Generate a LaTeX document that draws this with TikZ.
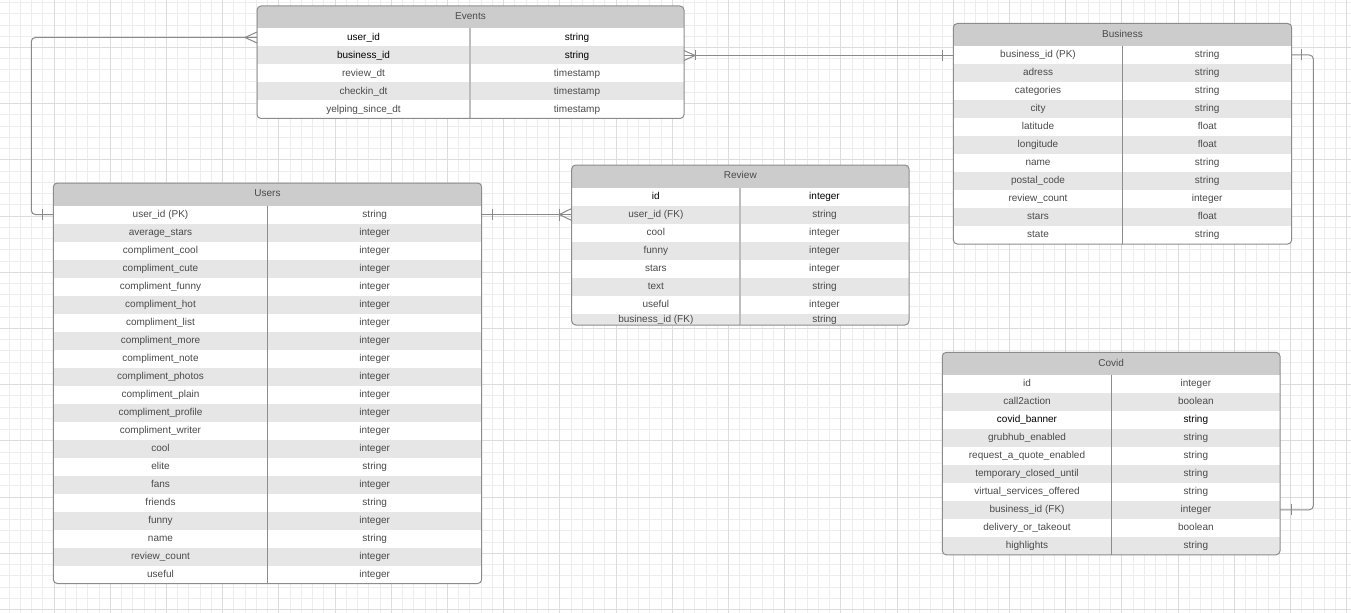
\documentclass[tikz,border=0pt]{standalone}
\usepackage{fontspec}
\setmainfont{Liberation Sans}
\usetikzlibrary{calc}
\definecolor{gridminor}{HTML}{EDEDED}
\definecolor{gridmajor}{HTML}{DCDCDC}
\definecolor{hdr}{HTML}{CCCCCC}
\definecolor{alt}{HTML}{E6E6E6}
\definecolor{bord}{HTML}{8C8C8C}
\definecolor{lightdiv}{HTML}{BDBDBD}
\definecolor{txt}{HTML}{4A4A4A}
\definecolor{conncol}{HTML}{8A8A8A}
\tikzset{
  cell/.style={font=\fontsize{7.5}{9}\selectfont, text=txt, inner sep=0pt, anchor=center, text height=5.4pt, text depth=1.6pt},
  norm/.style={cell},
  dark/.style={cell, text=black},
  normup/.style={cell, yshift=1.6pt},
  rowbox/.style={inner sep=0pt, outer sep=0pt, anchor=north west, minimum height=13.5pt},
  tblborder/.style={draw=bord, line width=0.75pt},
  divdark/.style={draw=bord, line width=0.75pt},
  divlight/.style={draw=lightdiv, line width=1.1pt},
  conn/.style={draw=conncol, line width=0.75pt},
  gmin/.style={draw=gridminor, line width=0.75pt},
  gmaj/.style={draw=gridmajor, line width=0.75pt},
}
% #1 name, #2 x left, #3 y top, #4 x right, #5 x divider, #6 y bottom, #7 title, #8 rows, #9 divider style
\newcommand\ertable[9]{%
  \pgfmathsetmacro\tblw{(#4-#2)*0.75}%
  \pgfmathsetmacro\colxa{(#2+#5)/2}%
  \pgfmathsetmacro\colxb{(#5+#4)/2}%
  \pgfmathsetmacro\titx{(#2+#4)/2}%
  \pgfmathsetmacro\tity{#3+11.25}%
  \pgfmathsetmacro\hdry{#3+22.5}%
  \begin{scope}
    \clip[rounded corners=3pt] (#2,#3) rectangle (#4,#6);
    \fill[white] (#2,#3) rectangle (#4,#6);
    \fill[hdr] (#2,#3) rectangle (#4,\hdry);
    \foreach \fa/\fb/\fs [count=\i] in {#8} {
      \pgfmathsetmacro\rowy{#3+22.5+(\i-1)*18}
      \ifodd\i\else\fill[alt] (#2,\rowy) rectangle (#4,\rowy+18);\fi
      \node[rowbox, minimum width=\tblw pt] (#1-r\i) at (#2,\rowy) {};
      \node[\fs] (#1-a\i) at (\colxa,\rowy+9) {\fa};
      \node[\fs] (#1-b\i) at (\colxb,\rowy+9) {\fb};
    }
  \end{scope}
  \draw[#9] (#5,\hdry) -- (#5,#6);
  \draw[tblborder, rounded corners=3pt] (#2,#3) rectangle (#4,#6);
  \node[cell] (#1) at (\titx,\tity) {#7};
}
\begin{document}
\begin{tikzpicture}[x=0.75pt, y=-0.75pt]
\useasboundingbox (0,0) rectangle (1351,613);
\fill[white] (0,0) rectangle (1351,613);
% grid
\foreach \k in {0,...,119} { \draw[gmin] (9.14+\k*11.24,0) -- (9.14+\k*11.24,613); }
\foreach \k in {0,...,54} { \draw[gmin] (0,2.54+\k*11.24) -- (1351,2.54+\k*11.24); }
\foreach \k in {0,...,23} { \draw[gmaj] (54.1+\k*56.2,0) -- (54.1+\k*56.2,613); }
\foreach \k in {0,...,10} { \draw[gmaj] (0,47.5+\k*56.2) -- (1351,47.5+\k*56.2); }

% tables
\ertable{events}{257}{6}{684}{470}{118.5}{Events}{%
  user\_id/string/dark,
  business\_id/string/dark,
  review\_dt/timestamp/norm,
  checkin\_dt/timestamp/norm,
  yelping\_since\_dt/timestamp/norm}{divlight}

\ertable{business}{953.3}{23.5}{1291.7}{1122.7}{244}{Business}{%
  business\_id (PK)/string/norm,
  adress/string/norm,
  categories/string/norm,
  city/string/norm,
  latitude/float/norm,
  longitude/float/norm,
  name/string/norm,
  postal\_code/string/norm,
  review\_count/integer/norm,
  stars/float/norm,
  state/string/norm}{divdark}

\ertable{review}{571.7}{165}{909}{740}{325}{Review}{%
  id/integer/dark,
  user\_id (FK)/string/norm,
  cool/integer/norm,
  funny/integer/norm,
  stars/integer/norm,
  text/string/norm,
  useful/integer/norm,
  business\_id (FK)/string/normup}{divlight}

\ertable{users}{53.3}{183}{481.7}{267.7}{583.5}{Users}{%
  user\_id (PK)/string/norm,
  average\_stars/integer/norm,
  compliment\_cool/integer/norm,
  compliment\_cute/integer/norm,
  compliment\_funny/integer/norm,
  compliment\_hot/integer/norm,
  compliment\_list/integer/norm,
  compliment\_more/integer/norm,
  compliment\_note/integer/norm,
  compliment\_photos/integer/norm,
  compliment\_plain/integer/norm,
  compliment\_profile/integer/norm,
  compliment\_writer/integer/norm,
  cool/integer/norm,
  elite/string/norm,
  fans/integer/norm,
  friends/string/norm,
  funny/integer/norm,
  name/string/norm,
  review\_count/integer/norm,
  useful/integer/norm}{divdark}

\ertable{covid}{942.3}{352.3}{1280}{1111.7}{554.8}{Covid}{%
  id/integer/norm,
  call2action/boolean/norm,
  covid\_banner/string/dark,
  grubhub\_enabled/string/norm,
  request\_a\_quote\_enabled/string/norm,
  temporary\_closed\_until/string/norm,
  virtual\_services\_offered/string/norm,
  business\_id (FK)/integer/norm,
  delivery\_or\_takeout/boolean/norm,
  highlights/string/norm}{divdark}

% connectors
% Users -- Events
\draw[conn, rounded corners=3pt] (users-r1.west) -- ++(-22,0) |- (events-r1.west);
\draw[conn] (users-r1.west) ++(-11,-5.5) -- ++(0,11);
\draw[conn] (events-r1.west) ++(0,-5.5) -- ++(-12,5.5) -- ++(12,5.5);
% Events -- Business
\coordinate (bizin) at (events-r2.east -| business-r1.west);
\draw[conn] (events-r2.east) -- (bizin);
\draw[conn] (events-r2.east) ++(0,-5) -- ++(11,5) -- ++(-11,5);
\draw[conn] (events-r2.east) ++(11,-5) -- ++(0,10);
\draw[conn] (bizin) ++(-10.6,-5.5) -- ++(0,11);
% Users -- Review
\coordinate (revin) at (users-r1.east -| review-r2.west);
\draw[conn] (users-r1.east) -- (revin);
\draw[conn] (users-r1.east) ++(10.6,-5.5) -- ++(0,11);
\draw[conn] (review-r2.west) ++(0,-6) -- ++(-12.4,6) -- ++(12.4,6);
\draw[conn] (review-r2.west) ++(-12.4,-6) -- ++(0,12);
% Business -- Covid
\draw[conn, rounded corners=3pt] (business-r1.east) -- ++(21.6,0) |- (covid-r8.east);
\draw[conn] (business-r1.east) ++(9.3,-5.5) -- ++(0,11);
\draw[conn] (covid-r8.east) ++(11,-5.5) -- ++(0,11);
\end{tikzpicture}
\end{document}
